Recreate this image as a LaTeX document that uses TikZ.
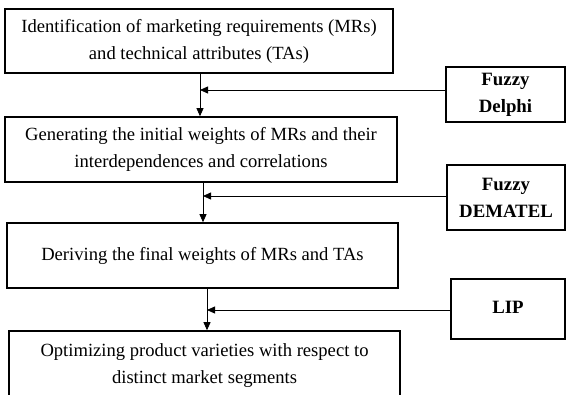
\documentclass[tikz,border=0pt]{standalone}
\usepackage{fontspec}
\setmainfont{Liberation Serif}
\usetikzlibrary{arrows.meta,calc}
\begin{document}
\begin{tikzpicture}[x=1pt,y=1pt,
  stage/.style={draw,line width=1.6pt,rectangle,inner sep=0pt,align=center,font=\fontsize{18.6}{27}\selectfont},
  tool/.style={draw,line width=1.6pt,rectangle,inner sep=0pt,align=center,font=\fontsize{18.8}{27}\selectfont\bfseries},
  arr/.style={line width=0.8pt,-{Triangle[length=8pt,width=7pt]}}]
\useasboundingbox (0,0) rectangle (567,394);
\node[stage,minimum width=388pt,minimum height=64pt] (b1) at (199,353)
  {Identification of marketing requirements (MRs)\\and technical attributes (TAs)};
\node[stage,minimum width=392pt,minimum height=65pt] (b2) at (201,244.5)
  {Generating the initial weights of MRs and their\\interdependences and correlations};
\node[stage,minimum width=391pt,minimum height=65pt] (b3) at (202.5,138.5)
  {\raisebox{4pt}{Deriving the final weights of MRs and TAs}};
\node[stage,minimum width=391pt,minimum height=68pt] (b4) at (204.5,29)
  {\raisebox{2pt}{\begin{tabular}{@{}c@{}}Optimizing product varieties with respect to\\distinct market segments\end{tabular}}};
\node[tool,minimum width=119pt,minimum height=55pt] (t1) at (505.5,299.5)
  {Fuzzy\\Delphi};
\node[tool,minimum width=118pt,minimum height=65pt] (t2) at (506,196.5)
  {Fuzzy\\DEMATEL};
\node[tool,minimum width=114pt,minimum height=60pt] (t3) at (508,85)
  {\raisebox{4pt}{LIP}};
\coordinate (j1) at (200,304);
\coordinate (j2) at (203,198);
\coordinate (j3) at (207,84);
\draw[arr] (j1 |- b1.south) -- (j1 |- b2.north);
\draw[arr] (j2 |- b2.south) -- (j2 |- b3.north);
\draw[arr] (j3 |- b3.south) -- (j3 |- b4.north);
\draw[arr] (t1.west |- j1) -- (j1);
\draw[arr] (t2.west |- j2) -- (j2);
\draw[arr] (t3.west |- j3) -- (j3);
\end{tikzpicture}
\end{document}
